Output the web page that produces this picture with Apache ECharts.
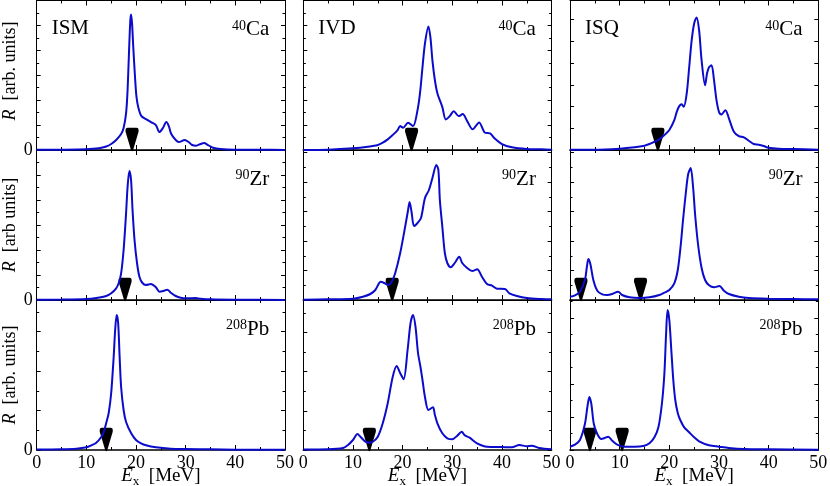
<!DOCTYPE html>
<html><head><meta charset="utf-8">
<script src="https://cdn.jsdelivr.net/npm/echarts@6/dist/echarts.min.js"></script>
<style>html,body{margin:0;padding:0;background:#fff}#c{width:830px;height:486px}</style>
</head><body><div id="c"></div>
<script>
// ---------------- DATA (E in MeV, R in arbitrary units) ----------------
const xTicks = [0, 10, 20, 30, 40, 50];
const modeLabels = ['ISM', 'IVD', 'ISQ'];
const nucleusMass = ['40', '90', '208'];
const nucleusName = ['Ca', 'Zr', 'Pb'];
const yTitleText = ['  [arb. units]', '  [arb units]', '  [arb. units]'];

// ISM
const ismCaE = [0,5,10,12.5,14,15,16,17,17.5,18,18.3,18.6,18.85,19.0,19.2,19.45,19.8,20.1,20.5,21.1,22,23,24,24.7,25.4,26.1,26.6,27.1,28,28.6,29.8,30.6,31.3,32.1,33,33.7,34.5,35.5,37,40,45,50];
const ismCaR = [0.2,0.3,0.7,1.7,3.5,6,10,16,22,37,60,100,130,136,127,103,73,53,42,34,31,28,25,18,22,28,24,16,10,8,10,8,5,4.3,6,7,5,2.3,1,0.3,0.2,0.1];
const ismZrE = [0,5,10,12,14,15,16,16.5,17,17.5,18,18.3,18.66,19,19.3,19.7,20.2,20.7,21.3,22,23,24,24.7,25.5,26.3,27,28,29,30,32,33,35,40,50];
const ismZrR = [0.2,0.4,1,2,4,6.7,11.7,16.7,26.7,50,87,113,129,120,90,60,37,23,17,15,16,12.7,8.3,9,10.3,7.3,4,2.3,1.7,2,1.3,0.7,0.3,0.1];
const ismPbE = [0,5,8,10,11,12,13,13.5,14,14.5,15,15.5,15.8,16.1,16.4,16.7,17,17.5,18,19,20,21,22,24,27,30,35,40,50];
const ismPbR = [0.5,0.7,1.3,2.7,4.7,7.3,13,18,27,37,57,93,120,135,127,93,63,40,28,17,10,6.7,4.7,2.7,1.3,1,0.7,0.3,0.2];
// IVD
const ivdCaE = [0,5,10,13,15,16,17,18,19,19.5,20.1,21.1,22.1,23,23.5,24,24.5,25.2,25.6,26,26.5,27,28,28.7,29.5,30.3,31.3,32.1,33,34.1,35.4,36.6,37.6,38.5,40,42,45,48,50];
const ivdCaR = [0,0.3,1.7,3.3,5,7.3,10.7,15,20,24,22.3,27.3,24,40,57,83,107,124,113,90,70,57,43,30.7,34,39,34,36,29,20.7,27.7,17.3,16.7,11.7,6,2.7,1,0.7,0.3];
const ivdZrE = [0,5,10,12,13.5,14.5,15.6,16.3,17.1,17.8,18.5,19.5,20.5,21.1,21.4,21.8,22.3,23,23.7,24.5,25.3,26,26.8,27.2,27.5,28,28.5,29,29.7,30.5,31.4,32,33,34,35,36,37,38,39,40.6,41.5,43,45,48,50];
const ivdZrR = [0.3,0.7,1.3,3.3,6,10,18.3,17,15,18.3,26.7,46.7,73,90,98,88,74,77,82,102,110,122,135,130,100,73,47,37,32.7,37,43.3,37,32,29,30.7,23,16,14.3,11.3,11,6.7,4,2,1,0.7];
const ivdPbE = [0,5,8,9,10,10.9,11.5,12.5,13.3,14,15,16,17,18,18.8,19.5,20.2,21,21.6,22.1,22.6,23.1,23.6,24,24.5,25.2,26.1,26.5,27,28,29,30,31,31.9,32.5,33.5,35,37,40,42,43.5,45,46,47.5,50];
const ivdPbR = [0.5,0.7,2,5,10,16,13.3,8.3,7.3,8.3,13.3,26.7,46.7,73,84,77,70.7,100,127,135,123,97,83,70,53,40,42.7,35,26.7,16.7,11.7,10.7,14.3,18.3,14.7,12.3,6.7,3.3,3,2.7,5,3.7,4.3,2,0.7];
// ISQ
const isqCaE = [0,5,10,13,15,16,17,18,19,20,21,21.5,22,22.5,22.9,23.5,24,24.5,25,25.5,26,26.5,27.2,27.6,28,28.5,29,29.5,30,30.5,31.3,32,33,34,35,36,37,38,39,40,42,45,50];
const isqCaR = [0.3,0.3,1.3,2.7,4.3,6,8.3,10.7,15,20,30,38.3,44,46,43.3,56.7,83,110,127,133,120,90,65,77,83,85,70,50,38.3,35.7,40,31.7,18.3,14,12.7,9.3,6,5.3,4,2.3,1.3,1,0.3];
const isqZrE = [0,1,2,3,3.4,3.7,4.1,4.7,5.5,6.5,7.5,8.5,9.7,10.5,12,14,16,18,19,20,21,21.7,22.3,22.8,23.3,23.8,24.3,24.8,25.2,25.8,26.5,27.2,28,29,30.1,31,32,34,36,40,45,50];
const isqZrR = [3.3,4.7,8.3,20,33,41,36,20,9.3,5.7,5,6,8.3,5,2.7,2,2.7,5,7.3,10,16.7,30,55,82,106,126,132,112,85,55,32,20,14.7,12.7,14,9.3,6,3.3,2,1.3,1,0.7];
const isqPbE = [0,1,2,3,3.5,3.9,4.3,4.8,5.5,6.3,7,7.7,8.5,9.5,11,13,15,16,17,17.8,18.5,19,19.35,19.65,20,20.4,20.8,21.2,21.7,22.2,23,24,25,26,28,30,32,35,40,50];
const isqPbR = [3.3,5.3,10,26,43,53,46,26,16,11,12,13.3,9.3,5.3,3.3,3.3,4.3,6.7,12.7,22.7,46,76,116,140,130,100,70,50,37,30,22.7,17.7,12.7,8.7,4.7,3.3,2,1,0.7,0.3];

// centroid markers (MeV)
const ismCaMarks = [19.2], ismZrMarks = [17.8], ismPbMarks = [14.0];
const ivdCaMarks = [21.8], ivdZrMarks = [17.9], ivdPbMarks = [13.3];
const isqCaMarks = [17.7], isqZrMarks = [2.2, 14.2], isqPbMarks = [4.0, 10.5];

// ---------------- LAYOUT / STYLE ----------------
const COL_LEFT = [36.7, 303.3, 570];
const COL_W = 248.3;
const ROW_TOP = [0.5, 150, 300];
const ROW_H = [149.5, 150, 150];
const Y_MAX = 150;
const BLUE = '#0b0bcc';
const FONT = '"Liberation Serif", "Times New Roman", serif';

// [row][col] panels: row = nucleus, col = mode
const panels = [
  [{E: ismCaE, R: ismCaR, m: ismCaMarks, tick: 25,   minor: 2},
   {E: ivdCaE, R: ivdCaR, m: ivdCaMarks, tick: 25,   minor: 2},
   {E: isqCaE, R: isqCaR, m: isqCaMarks, tick: 21.8, minor: 1}],
  [{E: ismZrE, R: ismZrR, m: ismZrMarks, tick: 25,   minor: 2},
   {E: ivdZrE, R: ivdZrR, m: ivdZrMarks, tick: 29.5, minor: 2},
   {E: isqZrE, R: isqZrR, m: isqZrMarks, tick: 29.5, minor: 2}],
  [{E: ismPbE, R: ismPbR, m: ismPbMarks, tick: 39.5, minor: 2},
   {E: ivdPbE, R: ivdPbR, m: ivdPbMarks, tick: 39.2, minor: 2},
   {E: isqPbE, R: isqPbR, m: isqPbMarks, tick: 33,   minor: 2}]
];

const grids = [], xAxes = [], yAxes = [], series = [];
const markerPath = 'path://M0,2 Q0,0 2,0 L11,0 Q13,0 13,2 L13,4 L7.5,22 Q6.5,24 5.5,22 L0,4 Z';

for (let r = 0; r < 3; r++) {
  for (let c = 0; c < 3; c++) {
    const gi = r * 3 + c;
    const p = panels[r][c];
    grids.push({left: COL_LEFT[c], top: ROW_TOP[r], width: COL_W, height: ROW_H[r],
      containLabel: false, outerBoundsMode: 'none', show: false});
    ['bottom', 'top'].forEach(pos => {
      xAxes.push({
        type: 'value', gridIndex: gi, position: pos, min: 0, max: 50, interval: 10,
        axisLine: {show: true, onZero: false, lineStyle: {color: '#000', width: pos === 'bottom' ? 1.6 : 1}},
        axisTick: {show: true, inside: true, length: 5, lineStyle: {color: '#000', width: 1}},
        minorTick: {show: true, splitNumber: 2, length: 3, lineStyle: {color: '#000', width: 1}},
        splitLine: {show: false}, minorSplitLine: {show: false},
        axisLabel: {show: pos === 'bottom' && r === 2, margin: 4, color: '#000', fontFamily: FONT, fontSize: 18,
          customValues: xTicks}
      });
    });
    ['left', 'right'].forEach(pos => {
      yAxes.push({
        type: 'value', gridIndex: gi, position: pos, min: 0, max: Y_MAX, interval: p.tick,
        axisLine: {show: true, onZero: false, lineStyle: {color: '#000', width: 1}},
        axisTick: {show: true, inside: true, length: 4, lineStyle: {color: '#000', width: 1}},
        minorTick: {show: p.minor > 1, splitNumber: p.minor, length: 2.5, lineStyle: {color: '#000', width: 1}},
        splitLine: {show: false}, minorSplitLine: {show: false},
        axisLabel: {show: pos === 'left' && c === 0, margin: 4, color: '#000', fontFamily: FONT, fontSize: 18,
          formatter: v => (v === 0 ? '0' : '')}
      });
    });
    series.push({
      type: 'scatter', xAxisIndex: 2 * gi, yAxisIndex: 2 * gi, z: 2, clip: false, silent: true,
      symbol: markerPath, symbolSize: [13, 23.5], symbolOffset: [0, -10.5],
      itemStyle: {color: '#000', opacity: 1},
      data: p.m.map(e => [e, 0])
    });
    series.push({
      type: 'line', xAxisIndex: 2 * gi, yAxisIndex: 2 * gi, z: 3, smooth: 0.3, showSymbol: false,
      lineStyle: {color: BLUE, width: 2, opacity: 1}, silent: true,
      data: p.E.map((e, i) => [e, p.R[i]])
    });
  }
}

// ---------- text helpers (baseline-aligned runs with sub/superscripts) ----------
const mctx = document.createElement('canvas').getContext('2d');
function fontStr(p) { return (p.italic ? 'italic ' : '') + p.size + 'px ' + FONT; }
function run(pieces, align) {
  const widths = pieces.map(p => { mctx.font = fontStr(p); return mctx.measureText(p.t).width; });
  const W = widths.reduce((a, b) => a + b, 0);
  let x = align === 'center' ? -W / 2 : align === 'right' ? -W : 0;
  return pieces.map((p, i) => {
    const el = {type: 'text', x: x, y: (p.dy || 0) - 0.34 * p.size,
      style: {text: p.t, font: fontStr(p), fill: '#000', align: 'left', verticalAlign: 'middle'}};
    x += widths[i];
    return el;
  });
}

const graphics = [];
for (let c = 0; c < 3; c++) {
  graphics.push({type: 'group', x: COL_LEFT[c] + 15, y: 35.5,
    children: run([{t: modeLabels[c], size: 21}], 'left')});
  graphics.push({type: 'group', x: COL_LEFT[c] + COL_W / 2, y: 482.5,
    children: run([{t: 'E', size: 19, italic: true}, {t: 'x', size: 13, dy: 3}, {t: '  [MeV]', size: 19}], 'center')});
}
for (let r = 0; r < 3; r++) {
  for (let c = 0; c < 3; c++) {
    graphics.push({type: 'group', x: COL_LEFT[c] + COL_W - 15.7, y: ROW_TOP[r] + 36.5,
      children: run([{t: nucleusMass[r], size: 14, dy: -6}, {t: nucleusName[r], size: 21}], 'right')});
  }
  const yc = [71, 225, 375][r];
  graphics.push({type: 'group', x: 16.5, y: yc, rotation: Math.PI / 2,
    children: run([{t: 'R', size: 18, italic: true}, {t: yTitleText[r], size: 18}], 'center')});
}

const chart = echarts.init(document.getElementById('c'), null, {renderer: 'canvas'});
chart.setOption({
  animation: false,
  backgroundColor: '#fff',
  grid: grids, xAxis: xAxes, yAxis: yAxes, series: series,
  graphic: {elements: graphics}
});
</script>
</body></html>
